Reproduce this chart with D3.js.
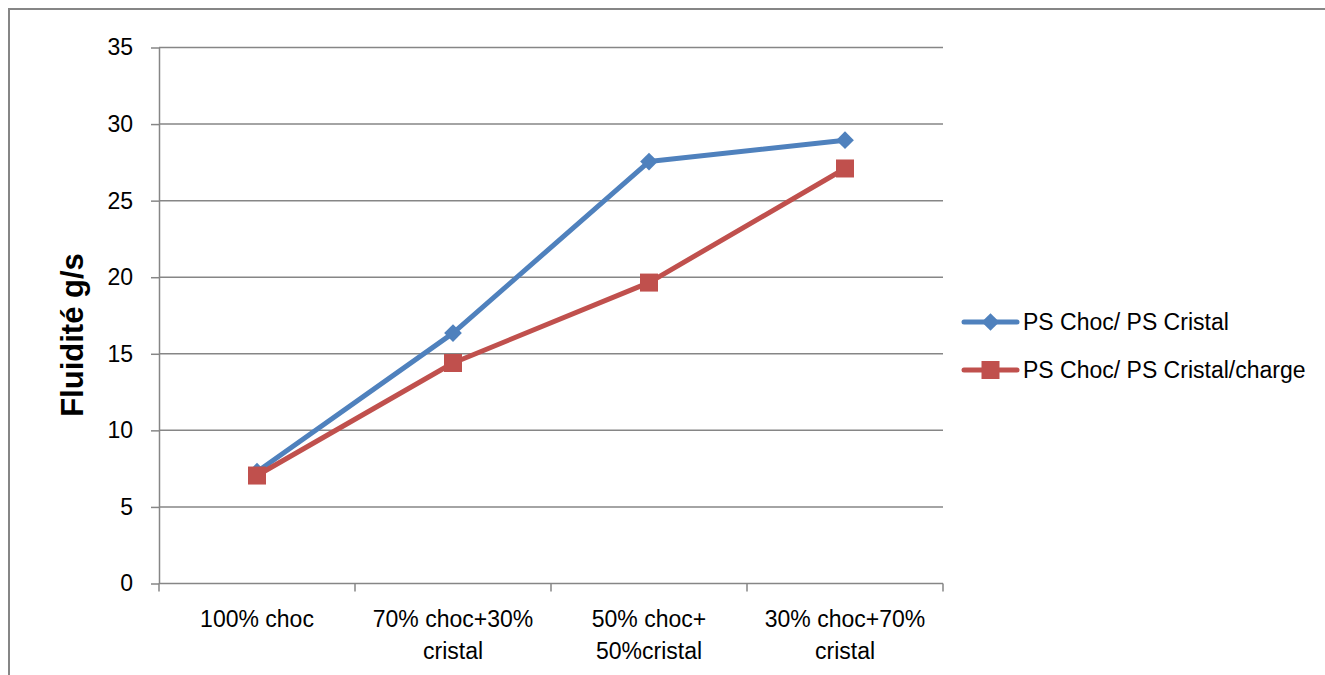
<!DOCTYPE html>
<html>
<head>
<meta charset="utf-8">
<script src="https://cdn.jsdelivr.net/npm/d3@7"></script>
<style>
  html, body { margin: 0; padding: 0; background: #fff; }
  svg { display: block; }
  text { font-family: "Liberation Sans", Arial, sans-serif; fill: #000; }
</style>
</head>
<body>
<svg id="chart" width="1325" height="675"></svg>
<script>
// Mix ratios (x categories), each label split over two lines
const categories = [
  ["100% choc"],
  ["70% choc+30%", "cristal"],
  ["50% choc+", "50%cristal"],
  ["30% choc+70%", "cristal"]
];
const seriesNames = ["PS Choc/ PS Cristal", "PS Choc/ PS Cristal/charge"];
const blueValues = [7.3, 16.35, 27.55, 28.95];
const redValues = [7.05, 14.4, 19.65, 27.1];
const yTicks = [0, 5, 10, 15, 20, 25, 30, 35];
const yTitle = "Fluidité g/s";

const colors = ["#4F81BD", "#C0504D"];
const gridColor = "#868686";

const svg = d3.select("#chart");

// outer frame
svg.append("rect")
  .attr("x", 9).attr("y", 9)
  .attr("width", 1330).attr("height", 700)
  .attr("fill", "none").attr("stroke", gridColor).attr("stroke-width", 2);

const plot = { left: 159, right: 943, top: 47.5, bottom: 583.5 };

const x = d3.scaleBand()
  .domain(d3.range(categories.length))
  .range([plot.left, plot.right])
  .paddingInner(0).paddingOuter(0);

const y = d3.scaleLinear().domain([0, 35]).range([plot.bottom, plot.top]);

// horizontal gridlines
svg.append("g")
  .selectAll("line")
  .data(yTicks.filter(t => t > 0))
  .join("line")
  .attr("x1", plot.left).attr("x2", plot.right)
  .attr("y1", d => y(d)).attr("y2", d => y(d))
  .attr("stroke", gridColor).attr("stroke-width", 1.5);

// y axis
const yAxis = svg.append("g")
  .attr("transform", `translate(${plot.left},0)`)
  .call(d3.axisLeft(y).tickValues(yTicks).tickSize(8).tickPadding(18).tickSizeOuter(0));
yAxis.select(".domain").attr("stroke", gridColor).attr("stroke-width", 1.5);
yAxis.selectAll(".tick line").attr("stroke", gridColor).attr("stroke-width", 1.5);
yAxis.selectAll(".tick text")
  .style("font-family", "'Liberation Sans', Arial, sans-serif")
  .style("font-size", "23px").attr("fill", "#000");

// x axis: ticks at category boundaries
const boundaries = d3.range(categories.length + 1).map(i => plot.left + i * x.bandwidth());
svg.append("line")
  .attr("x1", plot.left).attr("x2", plot.right)
  .attr("y1", plot.bottom).attr("y2", plot.bottom)
  .attr("stroke", gridColor).attr("stroke-width", 1.5);
svg.append("g").selectAll("line")
  .data(boundaries)
  .join("line")
  .attr("x1", d => d).attr("x2", d => d)
  .attr("y1", plot.bottom).attr("y2", plot.bottom + 8)
  .attr("stroke", gridColor).attr("stroke-width", 1.5);

// category labels
const catG = svg.append("g");
categories.forEach((lines, i) => {
  const t = catG.append("text")
    .attr("x", x(i) + x.bandwidth() / 2)
    .attr("y", 627)
    .attr("text-anchor", "middle")
    .style("font-size", "23px");
  lines.forEach((ln, j) => {
    t.append("tspan")
      .attr("x", x(i) + x.bandwidth() / 2)
      .attr("dy", j === 0 ? 0 : 32)
      .text(ln);
  });
});

// y axis title
svg.append("text")
  .attr("transform", `translate(83,335) rotate(-90)`)
  .attr("text-anchor", "middle")
  .style("font-size", "31px")
  .style("font-weight", "bold")
  .text(yTitle);

// series
const cx = i => x(i) + x.bandwidth() / 2;
const line = d3.line().x((d, i) => cx(i)).y(d => y(d));

const allSeries = [blueValues, redValues];
allSeries.forEach((vals, s) => {
  svg.append("path")
    .datum(vals)
    .attr("d", line)
    .attr("fill", "none")
    .attr("stroke", colors[s])
    .attr("stroke-width", 5)
    .attr("stroke-linejoin", "round");
});

const diamond = d3.symbol().type(d3.symbolDiamond2).size(200);
const square = d3.symbol().type(d3.symbolSquare).size(324);

svg.append("g").selectAll("path")
  .data(blueValues)
  .join("path")
  .attr("d", diamond)
  .attr("transform", (d, i) => `translate(${cx(i)},${y(d)})`)
  .attr("fill", colors[0]);

svg.append("g").selectAll("path")
  .data(redValues)
  .join("path")
  .attr("d", square)
  .attr("transform", (d, i) => `translate(${cx(i)},${y(d)})`)
  .attr("fill", colors[1]);

// legend
const legend = svg.append("g");
const legendY = [322, 370];
seriesNames.forEach((name, s) => {
  legend.append("line")
    .attr("x1", 964).attr("x2", 1017)
    .attr("y1", legendY[s]).attr("y2", legendY[s])
    .attr("stroke", colors[s]).attr("stroke-width", 5)
    .attr("stroke-linecap", "round");
  legend.append("path")
    .attr("d", s === 0 ? diamond : square)
    .attr("transform", `translate(990.5,${legendY[s]})`)
    .attr("fill", colors[s]);
  legend.append("text")
    .attr("x", 1023).attr("y", legendY[s] + 8)
    .style("font-size", "23px")
    .text(name);
});
</script>
</body>
</html>
